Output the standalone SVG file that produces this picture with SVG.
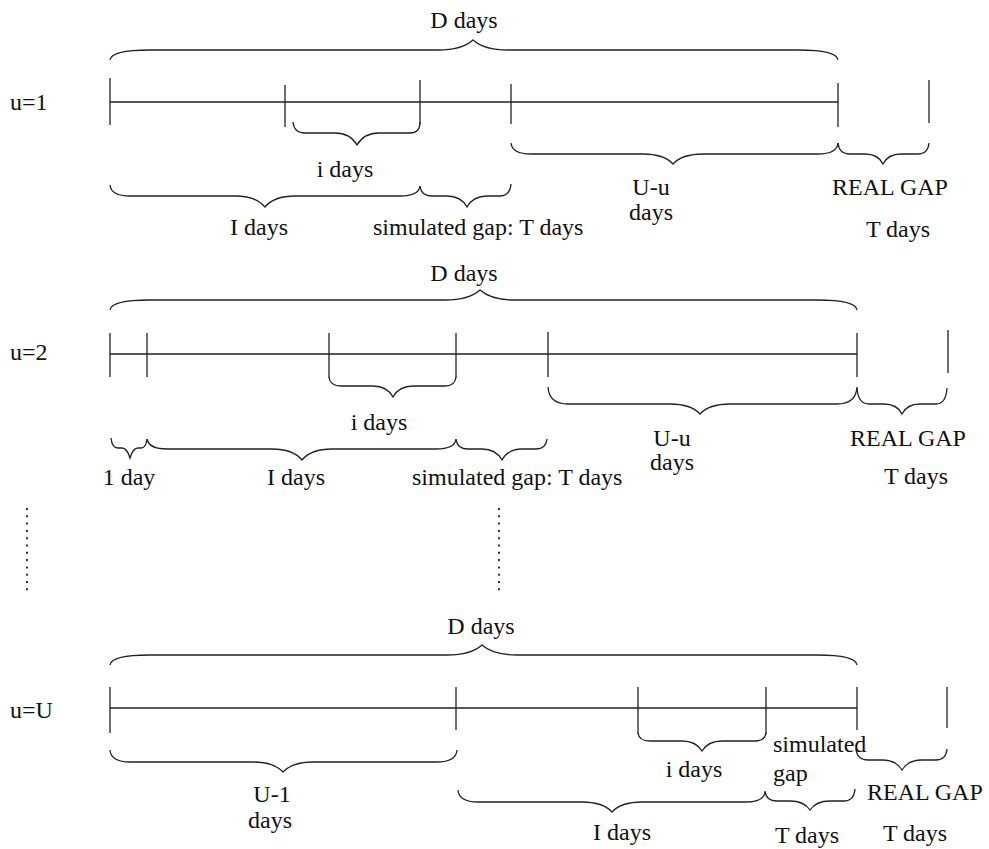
<svg xmlns="http://www.w3.org/2000/svg" width="989" height="849" viewBox="0 0 989 849">
<style>
text{font-family:"Liberation Serif","Times New Roman",serif;font-size:24px;fill:#111}
.m{text-anchor:middle}
.ln{stroke:#222;stroke-width:1.3;fill:none}
.br{stroke:#222;stroke-width:1.3;fill:none;stroke-linejoin:miter}
.dot{stroke:#333;stroke-width:2;stroke-dasharray:2 5.3;fill:none}
</style>
<rect width="989" height="849" fill="#fff"/>

<g id="row-u1">
  <text x="10" y="110">u=1</text>
  <g id="u1-timeline" class="ln">
    <line x1="110" y1="102" x2="838" y2="102"/>
    <line x1="110" y1="78" x2="110" y2="125"/>
    <line x1="285" y1="85" x2="285" y2="127"/>
    <line x1="420" y1="80" x2="420" y2="124"/>
    <line x1="511" y1="84" x2="511" y2="124"/>
    <line x1="838" y1="83" x2="838" y2="127"/>
    <line x1="929" y1="80" x2="929" y2="123"/>
  </g>
  <g id="u1-braces" class="br">
    <path d="M110,60 Q111,50 150,50 L438,50 Q462,50 473,40 Q484,50 508,50 L798,50 Q837,50 838,60"/>
    <path d="M293,122 Q294,133 305,133 L335,133 Q350,133 357,145 Q364,133 379,133 L410,133 Q420,133 420,122"/>
    <path d="M110,185 Q111,196 130,196 L235,196 Q256,196 265,207 Q274,196 295,196 L400,196 Q419,196 420,186"/>
    <path d="M420,186 Q421,196 432,196 L447,196 Q461,196 467,207 Q473,196 487,196 L500,196 Q510,196 511,184"/>
    <path d="M511,143 Q512,154 531,154 L643,154 Q664,154 673,164 Q682,154 703,154 L818,154 Q837,154 838,143"/>
    <path d="M838,143 Q839,154 850,154 L865,154 Q878,154 883,164 Q888,154 901,154 L918,154 Q928,154 929,143"/>
  </g>
  <text class="m" x="464" y="28">D days</text>
  <text class="m" x="345" y="177">i days</text>
  <text class="m" x="259" y="235">I days</text>
  <text x="373" y="235">simulated gap: T days</text>
  <text class="m" x="651" y="195">U-u</text>
  <text class="m" x="651" y="220">days</text>
  <text class="m" x="890" y="195">REAL GAP</text>
  <text class="m" x="898" y="237">T days</text>
</g>

<g id="row-u2">
  <text x="10" y="360">u=2</text>
  <g id="u2-timeline" class="ln">
    <line x1="110" y1="354" x2="857" y2="354"/>
    <line x1="110" y1="333" x2="110" y2="377"/>
    <line x1="147" y1="333" x2="147" y2="377"/>
    <line x1="329" y1="333" x2="329" y2="378"/>
    <line x1="456" y1="333" x2="456" y2="378"/>
    <line x1="548" y1="332" x2="548" y2="377"/>
    <line x1="857" y1="333" x2="857" y2="377"/>
    <line x1="948" y1="330" x2="948" y2="373"/>
  </g>
  <g id="u2-braces" class="br">
    <path d="M110,310 Q111,300 150,300 L445,300 Q469,300 480,290 Q491,300 515,300 L817,300 Q856,300 857,310"/>
    <path d="M329,377 Q330,386 341,386 L373,386 Q387,386 393,397 Q399,386 413,386 L445,386 Q455,386 456,377"/>
    <path d="M111,438 Q112,448 118,448 L122,448 Q127,448 130,458 Q133,448 138,448 L141,448 Q146,448 147,439"/>
    <path d="M147,439 Q149,449 167,449 L272,449 Q293,449 302,460 Q311,449 332,449 L436,449 Q455,449 456,439"/>
    <path d="M456,439 Q457,449 468,449 L482,449 Q496,449 502,460 Q508,449 522,449 L536,449 Q546,449 547,439"/>
    <path d="M548,387 Q549,404 568,404 L670,404 Q691,404 700,414 Q709,404 730,404 L837,404 Q856,404 857,387"/>
    <path d="M857,388 Q858,404 869,404 L884,404 Q897,404 902,414 Q907,404 920,404 L936,404 Q946,404 947,388"/>
  </g>
  <text class="m" x="464" y="281">D days</text>
  <text class="m" x="379" y="430">i days</text>
  <text class="m" x="129" y="485">1 day</text>
  <text class="m" x="296" y="485">I days</text>
  <text x="412" y="485">simulated gap: T days</text>
  <text class="m" x="672" y="446">U-u</text>
  <text class="m" x="672" y="470">days</text>
  <text class="m" x="908" y="446">REAL GAP</text>
  <text class="m" x="916" y="484">T days</text>
</g>

<g id="ellipsis">
  <line class="dot" x1="27" y1="508" x2="27" y2="593"/>
  <line class="dot" x1="499" y1="508" x2="499" y2="593"/>
</g>

<g id="row-uU">
  <text x="10" y="718">u=U</text>
  <g id="uU-timeline" class="ln">
    <line x1="110" y1="708" x2="857" y2="708"/>
    <line x1="110" y1="687" x2="110" y2="733"/>
    <line x1="456" y1="687" x2="456" y2="730"/>
    <line x1="638" y1="687" x2="638" y2="734"/>
    <line x1="766" y1="687" x2="766" y2="734"/>
    <line x1="857" y1="687" x2="857" y2="730"/>
    <line x1="947" y1="687" x2="947" y2="728"/>
  </g>
  <g id="uU-braces" class="br">
    <path d="M110,665 Q111,655 150,655 L447,655 Q471,655 482,645 Q493,655 517,655 L817,655 Q856,655 857,665"/>
    <path d="M110,750 Q111,762 130,762 L253,762 Q274,762 283,772 Q292,762 313,762 L437,762 Q456,762 457,750"/>
    <path d="M638,733 Q639,741 650,741 L682,741 Q696,741 702,751 Q708,741 722,741 L755,741 Q765,741 766,733"/>
    <path d="M458,790 Q459,802 478,802 L582,802 Q603,802 612,812 Q621,802 642,802 L745,802 Q764,802 765,792"/>
    <path d="M765,791 Q766,801 777,801 L790,801 Q804,801 810,810 Q816,801 830,801 L844,801 Q854,801 855,789"/>
    <path d="M856,749 Q857,760 868,760 L882,760 Q896,760 902,770 Q908,760 922,760 L936,760 Q946,760 947,749"/>
  </g>
  <text class="m" x="481" y="634">D days</text>
  <text class="m" x="272" y="802">U-1</text>
  <text class="m" x="270" y="828">days</text>
  <text class="m" x="694" y="777">i days</text>
  <text x="773" y="752">simulated</text>
  <text x="773" y="781">gap</text>
  <text class="m" x="622" y="840">I days</text>
  <text x="867" y="800">REAL GAP</text>
  <text class="m" x="807" y="843">T days</text>
  <text class="m" x="915" y="841">T days</text>
</g>
</svg>
